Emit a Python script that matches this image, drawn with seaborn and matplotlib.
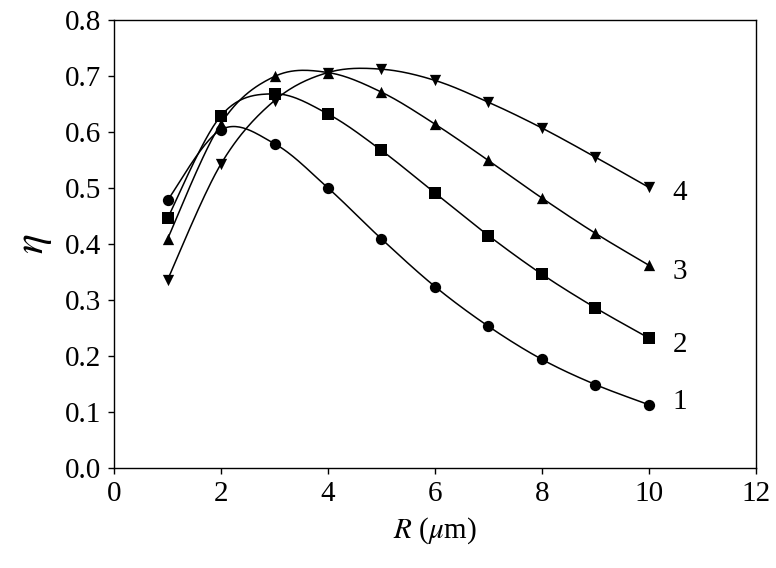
import numpy as np
import pandas as pd
import matplotlib
matplotlib.use("Agg")
import matplotlib.pyplot as plt
import seaborn as sns

R = [1, 2, 3, 4, 5, 6, 7, 8, 9, 10]
eta1 = [0.478, 0.604, 0.579, 0.500, 0.409, 0.324, 0.253, 0.194, 0.149, 0.113]
eta2 = [0.446, 0.629, 0.668, 0.632, 0.567, 0.491, 0.415, 0.346, 0.286, 0.232]
eta3 = [0.409, 0.615, 0.699, 0.706, 0.671, 0.614, 0.549, 0.482, 0.419, 0.362]
eta4 = [0.336, 0.543, 0.656, 0.706, 0.712, 0.692, 0.653, 0.607, 0.555, 0.501]
series_labels = ["1", "2", "3", "4"]
label_y = [0.118, 0.220, 0.350, 0.491]
markers = ["o", "s", "^", "v"]
xticks = [0, 2, 4, 6, 8, 10, 12]
yticks = [0.0, 0.1, 0.2, 0.3, 0.4, 0.5, 0.6, 0.7, 0.8]

sns.set_style("ticks")
plt.rcParams["font.family"] = ["Liberation Serif", "DejaVu Serif"]
plt.rcParams["mathtext.fontset"] = "stix"
plt.rcParams["text.color"] = "black"
plt.rcParams["axes.labelcolor"] = "black"


def smooth(x, y, n=30):
    # Catmull-Rom style smoothing (like Excel's smoothed line)
    x = np.asarray(x, float)
    y = np.asarray(y, float)
    px = np.concatenate([[x[0]], x, [x[-1]]])
    py = np.concatenate([[y[0]], y, [y[-1]]])
    xs, ys = [], []
    t = np.linspace(0, 1, n)
    for i in range(1, len(px) - 2):
        p0 = np.array([px[i], py[i]])
        p1 = np.array([px[i + 1], py[i + 1]])
        c1 = p0 + (p1 - np.array([px[i - 1], py[i - 1]])) / 6
        c2 = p1 - (np.array([px[i + 2], py[i + 2]]) - p0) / 6
        b = ((1 - t) ** 3)[:, None] * p0 + (3 * (1 - t) ** 2 * t)[:, None] * c1 \
            + (3 * (1 - t) * t ** 2)[:, None] * c2 + (t ** 3)[:, None] * p1
        xs.extend(b[:, 0]); ys.extend(b[:, 1])
    return np.array(xs), np.array(ys)


fig = plt.figure(figsize=(7.76, 5.68), dpi=100)
ax = fig.add_axes([0.147, 0.176, 0.827, 0.789])

for eta, lab, ly, mk in zip([eta1, eta2, eta3, eta4], series_labels, label_y, markers):
    sx, sy = smooth(R, eta)
    sns.lineplot(x=sx, y=sy, ax=ax, color="black", lw=1.1, sort=False, estimator=None)
    sns.scatterplot(x=R, y=eta, ax=ax, marker=mk, color="black", s=66,
                    edgecolor="black", linewidth=0, zorder=3)
    ax.text(10.58, ly, lab, fontsize=21, va="center", ha="center", color="black")

ax.set_xlim(0, 12)
ax.set_ylim(0, 0.8)
ax.set_xticks(xticks)
ax.set_yticks(yticks)
ax.set_xticklabels([str(v) for v in xticks])
ax.set_yticklabels([f"{v:.1f}" for v in yticks])
ax.tick_params(direction="out", length=4, width=1, labelsize=21, colors="black", pad=5)
for s in ax.spines.values():
    s.set_visible(True)
    s.set_color("black")
    s.set_linewidth(1)
ax.set_xlabel(r"$R$ ($\mu$m)", fontsize=21, labelpad=6, color="black")
ax.set_ylabel(r"$\eta$", fontsize=30, labelpad=8, color="black")

fig.savefig("out.png", dpi=100)
